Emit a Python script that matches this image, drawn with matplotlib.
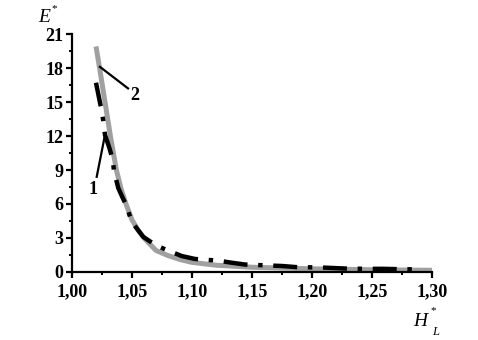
import numpy as np
import matplotlib
matplotlib.use('Agg')
import matplotlib.pyplot as plt
from matplotlib.ticker import MultipleLocator, FuncFormatter

plt.rcParams['font.family'] = ['Liberation Serif', 'DejaVu Serif']
plt.rcParams['font.weight'] = 'bold'

# curve 1 (black dash-dot)
h1 = [1.020, 1.024, 1.026, 1.0275, 1.031, 1.034, 1.035, 1.0386, 1.042, 1.0456,
      1.0497, 1.0594, 1.070, 1.079, 1.0914, 1.1025, 1.122, 1.133, 1.144, 1.163,
      1.175, 1.187, 1.207, 1.218, 1.229, 1.248, 1.259, 1.272, 1.291]
e1 = [16.7, 14.6, 13.4, 12.1, 11.0, 9.9, 8.9, 7.4, 6.6, 5.8,
      4.44, 3.1, 2.35, 1.94, 1.41, 1.15, 1.0, 0.82, 0.66, 0.58,
      0.53, 0.43, 0.40, 0.35, 0.30, 0.28, 0.28, 0.25, 0.23]

# curve 2 (grey solid)
h2 = [1.020, 1.023, 1.0275, 1.032, 1.037, 1.041, 1.045, 1.050, 1.055, 1.060,
      1.070, 1.080, 1.090, 1.100, 1.120, 1.150, 1.200, 1.250, 1.300]
e2 = [19.9, 18.0, 15.0, 12.0, 9.0, 7.3, 6.0, 4.6, 3.7, 3.0,
      1.9, 1.45, 1.1, 0.85, 0.6, 0.42, 0.28, 0.2, 0.15]

fig = plt.figure(figsize=(4.78, 3.4), dpi=100)
ax = fig.add_axes([0.1506, 0.2, 0.7532, 0.7])

ax.plot(h2, e2, color='#a0a0a0', linewidth=3.6, solid_capstyle='butt', zorder=2)
ax.plot(h1, e1, color='black', linewidth=3.2,
        dashes=(5.4, 2.4, 1.0, 2.4), zorder=3)

# leader lines and curve numbers
ax.plot([1.0233, 1.0467], [18.1, 16.2], color='black', linewidth=1.6)
ax.text(1.0485, 15.6, '2', fontsize=13, ha='left', va='center')
ax.plot([1.0206, 1.0275], [8.4, 12.1], color='black', linewidth=1.6)
ax.text(1.0175, 7.3, '1', fontsize=13, ha='center', va='center')

ax.set_xlim(1.0, 1.3)
ax.set_ylim(0, 21)
ax.xaxis.set_major_locator(MultipleLocator(0.05))
ax.xaxis.set_minor_locator(MultipleLocator(0.025))
ax.yaxis.set_major_locator(MultipleLocator(3))
ax.yaxis.set_minor_locator(MultipleLocator(1.5))
ax.xaxis.set_major_formatter(FuncFormatter(lambda v, p: ('%.2f' % v).replace('.', ',')))
ax.yaxis.set_major_formatter(FuncFormatter(lambda v, p: '%d' % round(v)))

for s in ['top', 'right']:
    ax.spines[s].set_visible(False)
for s in ['left', 'bottom']:
    ax.spines[s].set_linewidth(1.6)
ax.tick_params(which='major', direction='out', length=4, width=1.6, labelsize=13)
ax.tick_params(which='minor', direction='out', length=2.5, width=1.4)
ax.tick_params(axis='x', which='major', pad=4)
ax.tick_params(axis='y', which='major', pad=2)

# axis names: italic letter, small star, subscript
fig.text(44 / 478, 1 - 18 / 340, 'E', fontsize=14, style='italic', fontweight='normal',
         ha='center', va='center')
fig.text(54 / 478, 1 - 9 / 340, '*', fontsize=8, fontweight='normal', ha='center', va='center')
fig.text(420 / 478, 1 - 321 / 340, 'H', fontsize=14, style='italic', fontweight='normal',
         ha='center', va='center')
fig.text(433 / 478, 1 - 311 / 340, '*', fontsize=8, fontweight='normal', ha='center', va='center')
fig.text(436 / 478, 1 - 332 / 340, 'L', fontsize=9, style='italic', fontweight='normal',
         ha='center', va='center')

fig.savefig('out.png', dpi=100)
